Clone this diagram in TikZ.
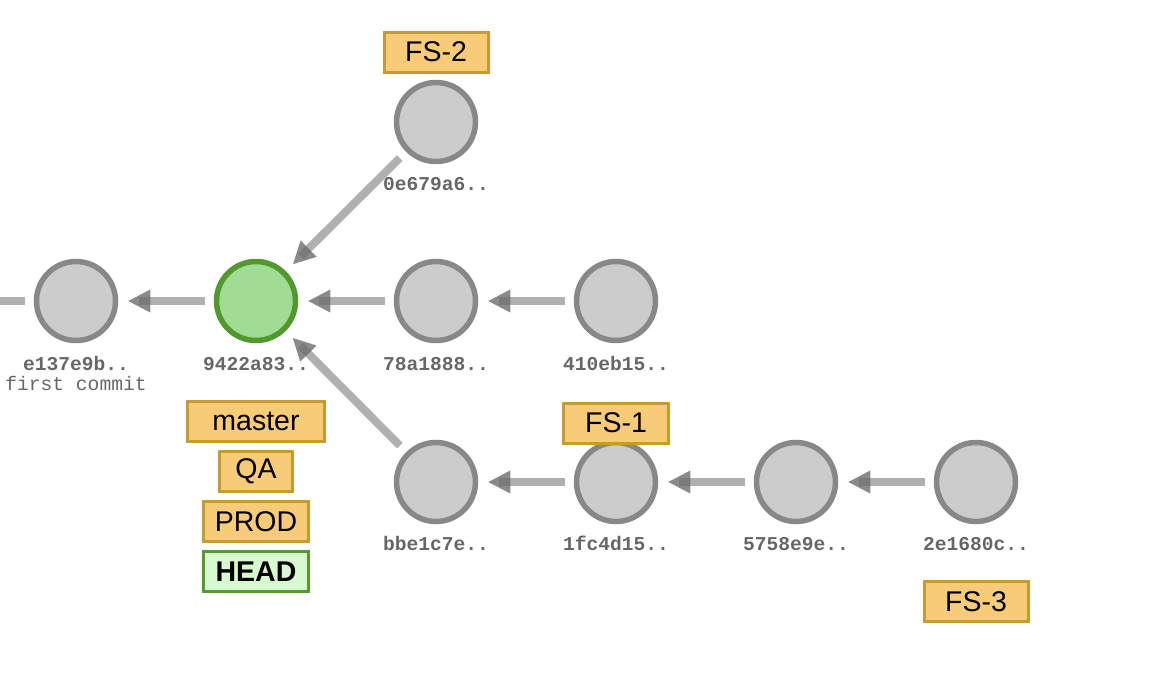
\documentclass[tikz,border=0pt]{standalone}
\usepackage{fontspec}
\usetikzlibrary{decorations.markings}
\newfontfamily\tagfont{Liberation Sans}
\newfontfamily\hashfont{Liberation Mono}
\definecolor{cfill}{HTML}{CCCCCC}
\definecolor{cline}{HTML}{888888}
\definecolor{gfill}{HTML}{A0DC94}
\definecolor{gline}{HTML}{52982C}
\definecolor{tfill}{HTML}{F8CB78}
\definecolor{tline}{HTML}{C89B32}
\definecolor{hfill}{HTML}{D8F8D0}
\definecolor{hline}{HTML}{55992F}
\definecolor{egray}{HTML}{B0B0B0}
\definecolor{agray}{HTML}{6D6D6D}
\definecolor{htext}{HTML}{666666}
\tikzset{
  commit/.style={circle, minimum size=79pt, inner sep=0pt, line width=5.5pt, draw=cline, fill=cfill},
  curcommit/.style={commit, draw=gline, fill=gfill},
  hashlbl/.style={anchor=base, inner sep=0pt, text=htext, font=\hashfont\bfseries\fontsize{19.6}{20}\selectfont},
  msglbl/.style={anchor=base, inner sep=0pt, text=htext, font=\hashfont\fontsize{19.6}{20}\selectfont},
  tagbox/.style={draw=tline, fill=tfill, line width=3pt, minimum height=40pt, inner sep=0pt, text=black, font=\tagfont\fontsize{28.5}{30}\selectfont},
  headbox/.style={tagbox, draw=hline, fill=hfill, font=\tagfont\bfseries\fontsize{28.5}{30}\selectfont},
  edge/.style={draw=egray, line width=8pt, shorten <=9pt, shorten >=21pt,
    postaction={decorate, decoration={markings, mark=at position -10pt with {\fill[agray, fill opacity=.8] (0,0) -- (-22pt,11.5pt) -- (-22pt,-11.5pt) -- cycle;}}}}
}
\begin{document}
\begin{tikzpicture}[x=1pt, y=-1pt]
\useasboundingbox (0,0) rectangle (1172,694);
% commits
\coordinate (root) at (-150,301);
\node[commit] (e137) at (76,301) {};
\node[curcommit] (c9422) at (256,301) {};
\node[commit] (c0e67) at (436,122) {};
\node[commit] (c78a1) at (436,301) {};
\node[commit] (c410e) at (616,301) {};
\node[commit] (cbbe1) at (436,482) {};
\node[commit] (c1fc4) at (616,482) {};
\node[commit] (c5758) at (796,482) {};
\node[commit] (c2e16) at (976,482) {};
% edges (child -> parent)
\draw[edge] (e137) -- (root);
\draw[edge] (c9422) -- (e137);
\draw[edge] (c78a1) -- (c9422);
\draw[edge] (c410e) -- (c78a1);
\draw[edge] (c0e67) -- (c9422);
\draw[edge] (cbbe1) -- (c9422);
\draw[edge] (c1fc4) -- (cbbe1);
\draw[edge] (c5758) -- (c1fc4);
\draw[edge] (c2e16) -- (c5758);
% hash labels
\node[hashlbl] (l1) at (76,370) {e137e9b..};
\node[msglbl] (m1) at (76,390) {first commit};
\node[hashlbl] (l2) at (256,370) {9422a83..};
\node[hashlbl] (l3) at (436,190) {0e679a6..};
\node[hashlbl] (l4) at (436,370) {78a1888..};
\node[hashlbl] (l5) at (616,370) {410eb15..};
\node[hashlbl] (l6) at (436,550) {bbe1c7e..};
\node[hashlbl] (l7) at (616,550) {1fc4d15..};
\node[hashlbl] (l8) at (796,550) {5758e9e..};
\node[hashlbl] (l9) at (976,550) {2e1680c..};
% tags
\node[tagbox, minimum width=104pt] (fs2) at (436,52) {FS-2};
\node[tagbox, minimum width=137pt] (master) at (256,421.5) {master};
\node[tagbox, minimum width=73pt] (qa) at (256,471.5) {QA};
\node[tagbox, minimum width=105pt] (prod) at (256,521.5) {PROD};
\node[headbox, minimum width=105pt] (head) at (256,571.5) {HEAD};
\node[tagbox, minimum width=105pt] (fs1) at (616,423) {FS-1};
\node[tagbox, minimum width=104pt] (fs3) at (976,601.5) {FS-3};
\end{tikzpicture}
\end{document}
